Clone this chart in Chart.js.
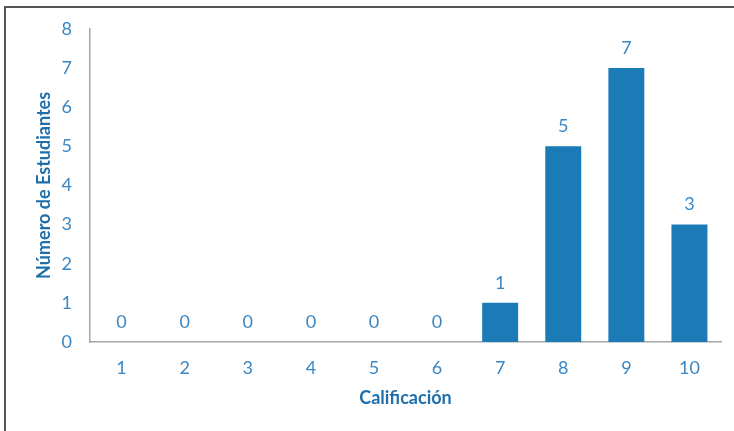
<!DOCTYPE html>
<html>
<head>
<meta charset="utf-8">
<script src="https://cdn.jsdelivr.net/npm/chart.js@4"></script>
<style>
  body { margin: 0; background: #fff; }
  #wrap { position: relative; width: 734px; height: 431px; }
  #frame { position: absolute; left: 4px; top: 6px; right: 0; bottom: 0;
           border-left: 2px solid #555; border-top: 2px solid #555; pointer-events: none; }
  canvas { position: absolute; left: 0; top: 0; }
</style>
</head>
<body>
<div id="wrap">
  <canvas id="grades" width="734" height="431"></canvas>
  <div id="frame"></div>
</div>
<script>
// calificaciones y cantidad de estudiantes
var categories = ['1', '2', '3', '4', '5', '6', '7', '8', '9', '10'];
var students = [0, 0, 0, 0, 0, 0, 1, 5, 7, 3];
var yTicks = [0, 1, 2, 3, 4, 5, 6, 7, 8];

var barColor = '#1b7bb6';
var tickColor = '#3a87c4';
var titleColor = '#1f6fab';
var fontName = 'Lato, "Open Sans", sans-serif';

// etiquetas encima de cada barra
var valueLabels = {
	id: 'valueLabels',
	afterDatasetsDraw: function(chart) {
		var ctx = chart.ctx;
		var meta = chart.getDatasetMeta(0);
		ctx.save();
		ctx.fillStyle = tickColor;
		ctx.font = '18px ' + fontName;
		ctx.textAlign = 'center';
		ctx.textBaseline = 'middle';
		meta.data.forEach(function(bar, i) {
			ctx.fillText(String(students[i]), bar.x, bar.y - 20);
		});
		ctx.restore();
	}
};

var ctx = document.getElementById('grades').getContext('2d');
var chart = new Chart(ctx, {
	type: 'bar',
	plugins: [valueLabels],
	data: {
		labels: categories,
		datasets: [{
			data: students,
			backgroundColor: barColor,
			barPercentage: 0.57,
			categoryPercentage: 1
		}]
	},
	options: {
		responsive: false,
		animation: false,
		layout: { padding: { left: 0, right: 13, top: 28, bottom: 0 } },
		plugins: {
			legend: { display: false },
			tooltip: { enabled: false }
		},
		scales: {
			x: {
				grid: { display: false, drawTicks: false },
				border: { display: true, color: '#a6a6a6', width: 1.5 },
				ticks: { color: tickColor, font: { family: fontName, size: 18 }, padding: 15 },
				title: {
					display: true,
					text: 'Calificación',
					color: titleColor,
					font: { family: fontName, size: 18, weight: 'bold' },
					padding: { top: 0, bottom: 22 }
				},
				afterFit: function(scale) { scale.height = 89; }
			},
			y: {
				min: 0,
				max: 8,
				afterBuildTicks: function(scale) {
					scale.ticks = yTicks.map(function(v) { return { value: v }; });
				},
				grid: { display: false, drawTicks: false },
				border: { display: true, color: '#a6a6a6', width: 1.5 },
				ticks: { color: tickColor, font: { family: fontName, size: 18 }, padding: 18 },
				title: {
					display: true,
					text: 'Número de Estudiantes',
					color: titleColor,
					font: { family: fontName, size: 18, weight: 'bold' },
					padding: { top: 33, bottom: 0 }
				},
				afterFit: function(scale) { scale.width = 90; }
			}
		}
	}
});
</script>
</body>
</html>
